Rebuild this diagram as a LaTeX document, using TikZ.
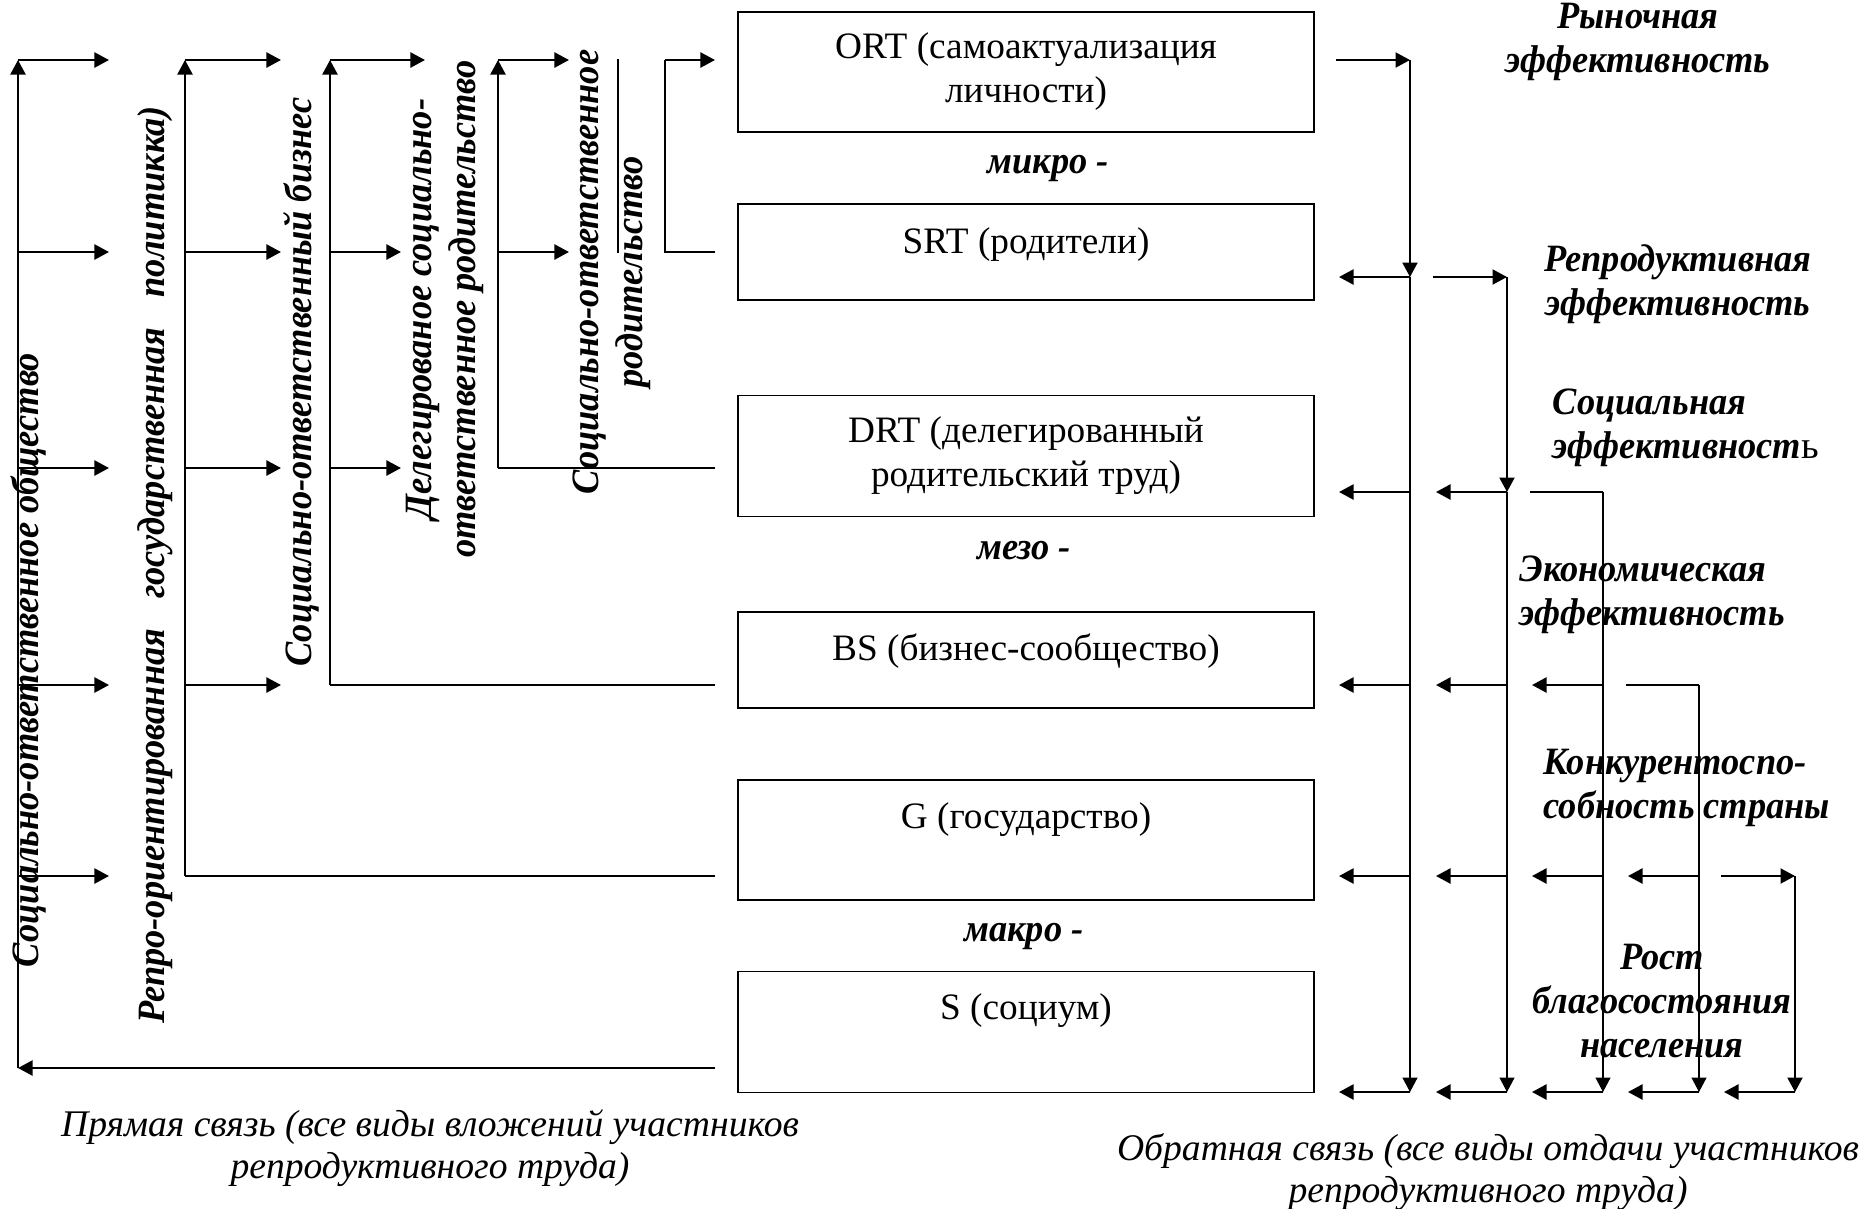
\documentclass[tikz,border=0pt]{standalone}
\usepackage{fontspec}
\setmainfont{Liberation Serif}
\newfontfamily\labfont{Liberation Serif}[FakeStretch=0.94]
\usetikzlibrary{arrows.meta}

\begin{document}
\begin{tikzpicture}[x=0.01cm,y=-0.01cm,
    blk/.style={draw, line width=0.5pt, minimum width=5.76cm, inner sep=0pt, align=center, font=\fontsize{10.6}{12.5}\selectfont},
    lvl/.style={inner sep=0pt, font=\labfont\fontsize{11}{12.5}\selectfont\bfseries\itshape},
    vlab/.style={rotate=90, inner sep=0pt, align=center, font=\labfont\fontsize{11}{12.5}\selectfont\bfseries\itshape},
    elab/.style={inner sep=0pt, font=\labfont\fontsize{11}{12.5}\selectfont\bfseries\itshape},
    capt/.style={inner sep=0pt, align=center, font=\fontsize{10.7}{12}\selectfont\itshape},
    arr/.style={line width=0.6pt, -{Triangle[length=1.45mm,width=1.5mm]}},
    thn/.style={line width=0.4pt}]
\useasboundingbox (0,0) rectangle (1872,1208);

% участники
\node[blk, minimum height=1.2cm] (ort) at (1026,72) {ORT (самоактуализация\\личности)};
\node[blk, text height=0.49cm, text depth=0.47cm] (srt) at (1026,252) {SRT (родители)};
\node[blk, minimum height=1.21cm] (drt) at (1026,456) {DRT (делегированный\\родительский труд)};
\node[blk, text height=0.48cm, text depth=0.48cm] (bs) at (1026,660) {BS (бизнес-сообщество)};
\node[blk, text height=0.48cm, text depth=0.72cm] (g) at (1026,840) {G (государство)};
\node[blk, text height=0.48cm, text depth=0.73cm] (s) at (1026,1032) {S (социум)};

\node[lvl] (mikro) at (1048,168) {микро -};
\node[lvl] (mezo) at (1024,551) {мезо -};
\node[lvl] (makro) at (1024,936) {макро -};

% вертикальные подписи
\node[vlab] (obsh) at (29,660) {Социально-ответственное общество};
\node[vlab] (gos) at (155,565) {Репро-ориентированная\hspace{0.3cm}государственная\hspace{0.3cm}политикка)};
\node[vlab] (biz) at (301,382) {Социально-ответственный бизнес};
\node[vlab] (deleg) at (445,309) {Делегированое социально-\\ответственное родительство};
\node[vlab] (rod) at (612,272) {Социально-ответственное\\родительство};
\draw[thn] (618,59) -- (618,253);

% прямая связь
\coordinate (sL) at (715,1068);
\coordinate (gL) at (715,876);
\coordinate (bsL) at (715,685);
\coordinate (drtL) at (715,468);
\coordinate (srtL) at (715,252);
\coordinate (ortL) at (715,60);
\draw[arr] (sL) -- (18,1068) coordinate (b1);
\draw[arr] (b1) -- (18,60);
\draw[thn] (gL) -- (185,876) coordinate (b2);
\draw[arr] (b2) -- (185,60);
\draw[thn] (bsL) -- (330,685) coordinate (b3);
\draw[arr] (b3) -- (330,60);
\draw[thn] (drtL) -- (498,468) coordinate (b4);
\draw[arr] (b4) -- (498,60);
\draw[thn] (srtL) -- (665,252) coordinate (b5) -- (665,60) coordinate (b5t);
\draw[arr] (b5t) -- (ortL);
\foreach \x/\e/\levels in {18/109/{60,252,468,685,876}, 185/281/{60,252,468,685}, 330/401/{252,468}, 498/569/{60,252}}
  \foreach \y in \levels \draw[arr] (\x,\y) -- (\e,\y);
\draw[arr] (330,60) -- (425,60);

% обратная связь
\coordinate (ortR) at (1336,60);
\draw[arr] (ortR) -- (1410,60) coordinate (ca);
\draw[arr] (ca) -- (1410,277) coordinate (ca2);
\draw[arr, line width=0.4pt] (ca2) -- (1410,1092);
\draw[arr] (1433,277) -- (1507,277) coordinate (cb);
\draw[arr] (cb) -- (1507,492) coordinate (cb2);
\draw[arr, line width=0.4pt] (cb2) -- (1507,1092);
\draw[thn] (1530,492) -- (1603,492) coordinate (cc);
\draw[arr, line width=0.4pt] (cc) -- (1603,1092);
\draw[thn] (1626,685) -- (1699,685) coordinate (cd);
\draw[arr, line width=0.4pt] (cd) -- (1699,1092);
\draw[arr] (1721,876) -- (1795,876) coordinate (ce);
\draw[arr] (ce) -- (1795,1092);
\foreach \x/\levels in {1410/{277,492,685,876,1092}, 1507/{492,685,876,1092}, 1603/{685,876,1092}, 1699/{876,1092}, 1795/{1092}}
  \foreach \y in \levels \draw[arr] (\x,\y) -- ++(-71,0);

% эффективность
\node[elab, align=center] (rynok) at (1638,42) {Рыночная\\эффективность};
\node[elab, align=center] (repro) at (1678,284) {Репродуктивная\\эффективность};
\node[elab, align=left, anchor=west] (soc) at (1552,428) {Социальная\\эффективност\textnormal{ь}};
\node[elab, align=left, anchor=west] (econ) at (1519,595) {Экономическая\\эффективность};
\node[elab, align=left, anchor=west] (konk) at (1543,788) {Конкурентоспо-\\собность страны};
\node[elab, align=center] (rost) at (1662,1001) {Рост\\благосостояния\\населения};

% подписи
\node[capt] (pryam) at (430,1148) {Прямая связь (все виды вложений участников\\репродуктивного труда)};
\node[capt] (obr) at (1488,1172) {Обратная связь (все виды отдачи участников\\репродуктивного труда)};
\end{tikzpicture}
\end{document}
